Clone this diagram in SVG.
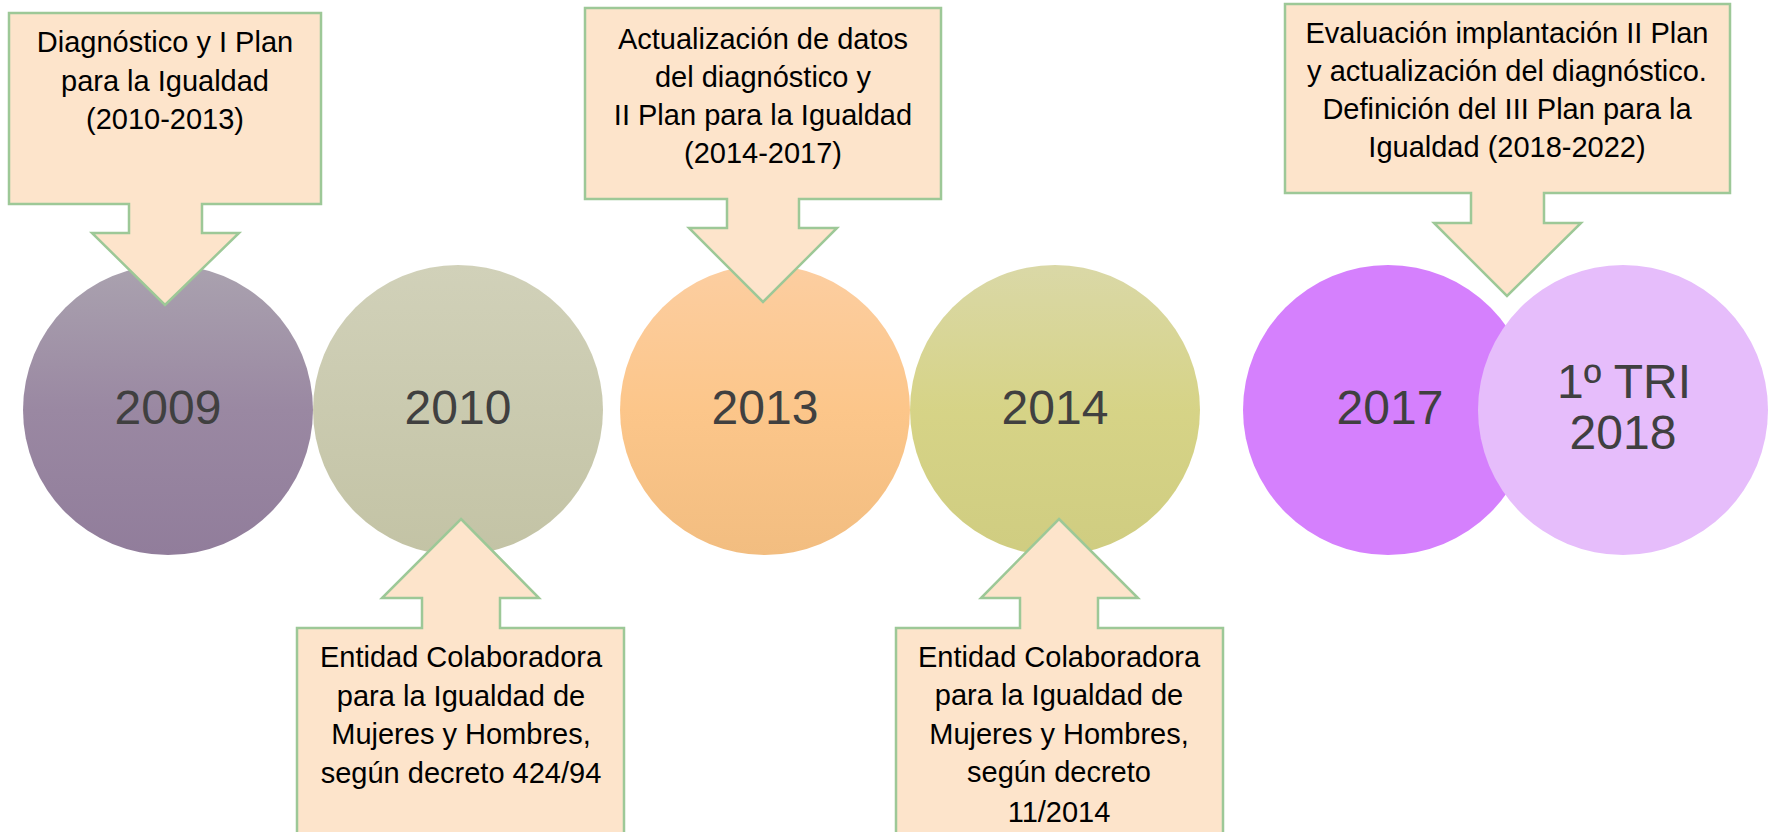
<svg xmlns="http://www.w3.org/2000/svg" width="1771" height="832" viewBox="0 0 1771 832">
<style>
.co{fill:#fde4cb;stroke:#9dc897;stroke-width:2.5;stroke-linejoin:miter}
.ct{font-family:"Liberation Sans",Arial,sans-serif;font-size:29px;fill:#000;text-anchor:middle}
.yr{font-family:"Liberation Sans",Arial,sans-serif;font-size:48px;fill:#404040;text-anchor:middle}
</style>
<defs>
<linearGradient id="g1" x1="0" y1="0" x2="0" y2="1"><stop offset="0" stop-color="#aaa2af"/><stop offset="0.5" stop-color="#9a88a2"/><stop offset="1" stop-color="#917d9b"/></linearGradient>
<linearGradient id="g2" x1="0" y1="0" x2="0" y2="1"><stop offset="0" stop-color="#d1d1b9"/><stop offset="1" stop-color="#c3c3a5"/></linearGradient>
<linearGradient id="g3" x1="0" y1="0" x2="0" y2="1"><stop offset="0" stop-color="#fccea1"/><stop offset="0.5" stop-color="#fcc68a"/><stop offset="1" stop-color="#f2bd80"/></linearGradient>
<linearGradient id="g4" x1="0" y1="0" x2="0" y2="1"><stop offset="0" stop-color="#d8d6a2"/><stop offset="0.5" stop-color="#d4d180"/><stop offset="1" stop-color="#cdca7a"/></linearGradient>
</defs>
<g id="c2009"><circle cx="168" cy="410" r="145" fill="url(#g1)"/><text class="yr" x="168" y="424">2009</text></g>
<g id="c2010"><circle cx="458" cy="410" r="145" fill="url(#g2)"/><text class="yr" x="458" y="424">2010</text></g>
<g id="c2013"><circle cx="765" cy="410" r="145" fill="url(#g3)"/><text class="yr" x="765" y="424">2013</text></g>
<g id="c2014"><circle cx="1055" cy="410" r="145" fill="url(#g4)" fill-opacity="0.95"/><text class="yr" x="1055" y="424">2014</text></g>
<g id="c2017"><circle cx="1388" cy="410" r="145" fill="#d580fd"/><text class="yr" x="1390" y="424">2017</text></g>
<g id="c2018"><circle cx="1623" cy="410" r="145" fill="#e6bdfb"/><text class="yr" x="1624" y="398">1º TRI</text><text class="yr" x="1623" y="449">2018</text></g>
<g id="connectors">
<g id="callout1"><path class="co" d="M9,13 H321 V204 H202 V233 H239 L165,305 L92,233 H129 V204 H9 Z"/>
<text class="ct" x="165" y="52">Diagnóstico y I Plan</text><text class="ct" x="165" y="91">para la Igualdad</text><text class="ct" x="165" y="129">(2010-2013)</text></g>
<g id="callout2"><path class="co" d="M585,8 H941 V199 H799 V228 H837 L763,302 L689,228 H727 V199 H585 Z"/>
<text class="ct" x="763" y="49">Actualización de datos</text><text class="ct" x="763" y="87">del diagnóstico y</text><text class="ct" x="763" y="125">II Plan para la Igualdad</text><text class="ct" x="763" y="163">(2014-2017)</text></g>
<g id="callout3"><path class="co" d="M1285,4 H1730 V193 H1544 V223 H1581 L1507,296 L1434,223 H1471 V193 H1285 Z"/>
<text class="ct" x="1507" y="43">Evaluación implantación II Plan</text><text class="ct" x="1507" y="81">y actualización del diagnóstico.</text><text class="ct" x="1507" y="119">Definición del III Plan para la</text><text class="ct" x="1507" y="157">Igualdad (2018-2022)</text></g>
<g id="callout4"><path class="co" d="M461,519 L539,598 H500 V628 H624 V850 H297 V628 H422 V598 H382 Z"/>
<text class="ct" x="461" y="667">Entidad Colaboradora</text><text class="ct" x="461" y="706">para la Igualdad de</text><text class="ct" x="461" y="744">Mujeres y Hombres,</text><text class="ct" x="461" y="783">según decreto 424/94</text></g>
<g id="callout5"><path class="co" d="M1059,519 L1138,598 H1098 V628 H1223 V850 H896 V628 H1020 V598 H981 Z"/>
<text class="ct" x="1059" y="667">Entidad Colaboradora</text><text class="ct" x="1059" y="705">para la Igualdad de</text><text class="ct" x="1059" y="744">Mujeres y Hombres,</text><text class="ct" x="1059" y="782">según decreto</text><text class="ct" x="1059" y="822">11/2014</text></g>
</g>
</svg>
